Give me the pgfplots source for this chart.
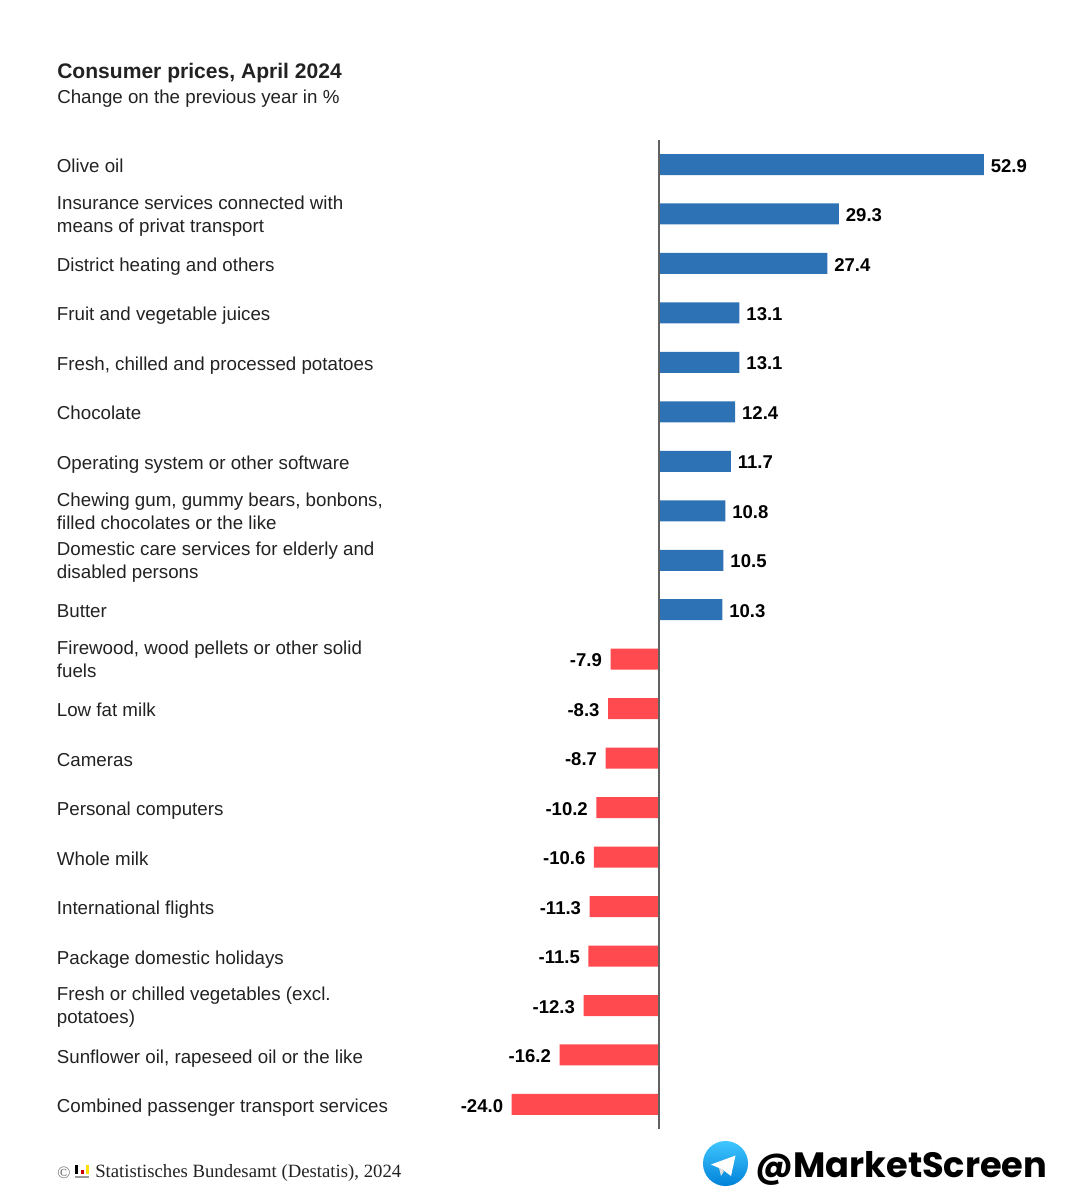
\documentclass[border=0pt]{standalone}
\usepackage{fontspec}
\setmainfont{Liberation Sans}
\newfontfamily\footfont{Liberation Serif}
\newfontfamily\brandfont{Poppins}
\usepackage{pgfplots}
\pgfplotsset{compat=1.18}
\definecolor{barblue}{HTML}{2E72B6}
\definecolor{barred}{HTML}{FF4A50}
\definecolor{txt}{HTML}{222222}

\begin{document}
% x,y are reference pixels, measured from the top left
\begin{tikzpicture}[x=0.75pt,y=-0.75pt]
\path[use as bounding box] (0,0) rectangle (1085,1200);

\begin{axis}[
    at={(42.75pt,-846.75pt)}, anchor=south west,
    scale only axis,
    width=771pt, height=741.75pt,
    xmin=-98.05, xmax=69.38,
    ymin=-0.495, ymax=19.497,
    y dir=reverse,
    clip=false,
    xbar, bar shift=0pt, bar width=15.75pt,
    axis line style={draw=none},
    tick style={draw=none},
    xtick=\empty,
    ytick={0,...,19},
    yticklabels={
      Olive oil,
      {Insurance services connected with\\means of privat transport},
      District heating and others,
      Fruit and vegetable juices,
      {Fresh, chilled and processed potatoes},
      Chocolate,
      Operating system or other software,
      {Chewing gum, gummy bears, bonbons,\\filled chocolates or the like},
      {Domestic care services for elderly and\\disabled persons},
      Butter,
      {Firewood, wood pellets or other solid\\fuels},
      Low fat milk,
      Cameras,
      Personal computers,
      Whole milk,
      International flights,
      Package domestic holidays,
      {Fresh or chilled vegetables (excl.\\potatoes)},
      {Sunflower oil, rapeseed oil or the like},
      Combined passenger transport services},
    yticklabel style={anchor=west, align=left, inner sep=0pt, xshift=4pt, yshift=-2.6pt,
      text=txt, font=\fontsize{14.05}{17.25}\selectfont,
      execute at begin node=\strut, execute at end node=\strut},
    nodes near coords,
    /pgf/number format/assume math mode=true,
    /pgf/number format/fixed,
    /pgf/number format/fixed zerofill,
    /pgf/number format/precision=1,
    nodes near coords style={font=\fontsize{13.9}{16}\selectfont\bfseries,
      text=black, inner sep=0pt, outer sep=5.25pt, yshift=-0.9pt},
]
\addplot[fill=barblue, draw=none] coordinates {
  (52.9,0) (29.3,1) (27.4,2) (13.1,3) (13.1,4)
  (12.4,5) (11.7,6) (10.8,7) (10.5,8) (10.3,9)};
\addplot[fill=barred, draw=none, nodes near coords style={xshift=-1.2pt}] coordinates {
  (-7.9,10) (-8.3,11) (-8.7,12) (-10.2,13) (-10.6,14)
  (-11.3,15) (-11.5,16) (-12.3,17) (-16.2,18) (-24.0,19)};
\draw[color=black!62, line width=1.5pt] (axis cs:0,-0.495) -- (axis cs:0,19.497);
\end{axis}

% title block
\node[anchor=base west, inner sep=0pt, text=txt, font=\fontsize{15.8}{18}\selectfont\bfseries]
  at (57,78) {Consumer prices, April 2024};
\node[anchor=base west, inner sep=0pt, text=txt, font=\fontsize{14.05}{17}\selectfont]
  at (57,103) {Change on the previous year in \%};

% source line
\node[anchor=base west, inner sep=0pt, text=black!60, font=\footfont\fontsize{13}{14}\selectfont]
  at (57,1178) {©};
\fill[black] (75,1165) rectangle (78,1174);
\fill[red!80!black] (81,1170) rectangle (84,1174);
\fill[yellow!80!orange] (86,1165) rectangle (89,1174);
\fill[black!40] (75,1175.5) rectangle (89,1178);
\node[anchor=base west, inner sep=0pt, text=txt, font=\footfont\fontsize{14.05}{16}\selectfont]
  at (95,1177) {Statistisches Bundesamt (Destatis), 2024};

% telegram handle
\shade[top color=cyan!70!blue!75, bottom color=cyan!60!blue!85!black]
  (725.5,1163.5) circle[radius=16.9pt];
\fill[white] (711,1164.5) -- (735.5,1155.5) -- (731,1176) -- (722.5,1169.5) -- (719,1168) -- cycle;
\fill[black!12] (719,1168) -- (721,1176) -- (724,1171) -- (722.5,1169.5) -- cycle;
\node[anchor=base west, inner sep=0pt, text=black, font=\brandfont\bfseries\fontsize{26.4}{30}\selectfont]
  at (755,1177) {@MarketScreen};
\end{tikzpicture}
\end{document}
